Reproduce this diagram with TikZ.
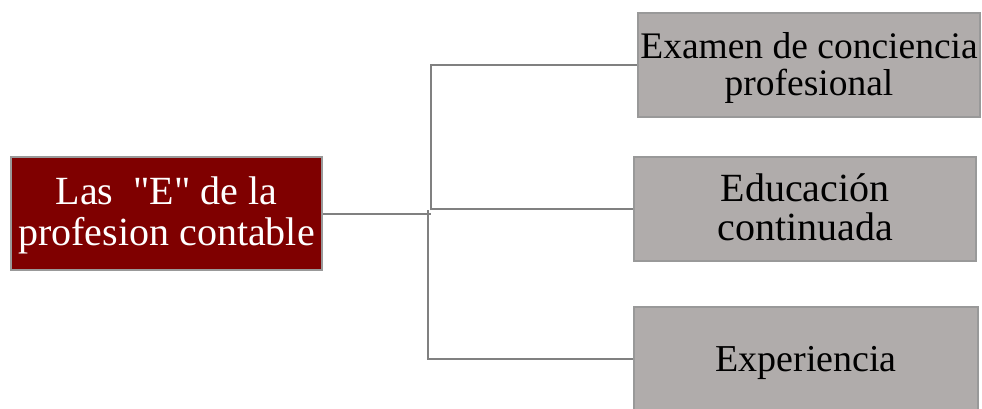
\documentclass[tikz,border=0pt]{standalone}
\usepackage{fontspec}
\setmainfont{Liberation Serif}[Ligatures=TeXOff]
\definecolor{darkred}{HTML}{7F0000}
\definecolor{boxgray}{HTML}{B0ACAB}
\definecolor{edgegray}{HTML}{999999}
\definecolor{linegray}{HTML}{808080}
\newcommand{\topstrut}[1]{\rule{0pt}{#1pt}}
\newcommand{\botstrut}[1]{\rule[-#1pt]{0pt}{0pt}}
\begin{document}
\begin{tikzpicture}[x=1pt,y=-1pt,
  mainbox/.style={draw=edgegray, line width=2pt, fill=darkred, text=white, align=center,
    minimum width=311pt, minimum height=113pt, inner sep=0pt,
    font=\fontsize{40}{41}\selectfont},
  itembox/.style={draw=edgegray, line width=2pt, fill=boxgray, text=black, align=center,
    minimum width=342pt, minimum height=104pt, inner sep=0pt},
  conn/.style={draw=linegray, line width=2pt}]
\useasboundingbox (0,0) rectangle (982,408);
\node[mainbox] (main) at (166.5,213.5)
  {\topstrut{32}Las\ \ "E" de la\\profesion contable\botstrut{10}};
\node[itembox, font=\fontsize{37.5}{37}\selectfont] (b1) at (809,65)
  {\topstrut{32}Examen de conciencia\\profesional\botstrut{9}};
\node[itembox, font=\fontsize{40}{39}\selectfont] (b2) at (805,209)
  {\topstrut{32}Educación\\continuada\botstrut{9}};
\node[itembox, font=\fontsize{38}{38}\selectfont, minimum width=344pt, minimum height=103pt] (b3) at (806,358.5)
  {\topstrut{34}Experiencia\botstrut{9}};
\coordinate (ju) at (431,210);
\coordinate (jl) at (428,210);
\draw[conn] (main.east) -- (main.east -| ju);
\draw[conn] (ju) |- (b1.west);
\draw[conn] (ju |- b2.west) -- (b2.west);
\draw[conn] (jl) |- (b3.west);
\end{tikzpicture}
\end{document}
